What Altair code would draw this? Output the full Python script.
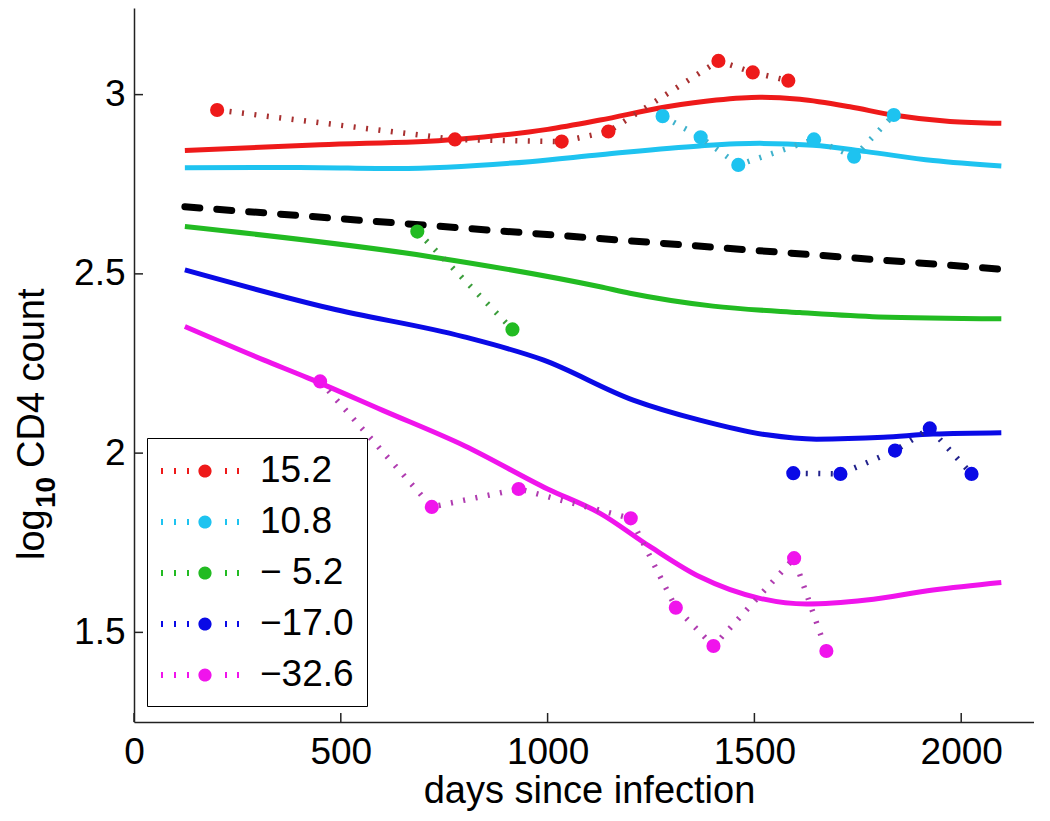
import altair as alt
import pandas as pd

# ---------------- data ----------------
series = ["15.2", "10.8", "\u2212 5.2", "\u221217.0", "\u221232.6"]
keys = ["a", "b", "c", "d", "e"]
bright = ["#ee1a1a", "#1ec3f0", "#22bb22", "#0a0ae6", "#f014ec"]
dark = ["#a83030", "#3fb2cc", "#3a9d3a", "#22228c", "#b03cb0"]

# observed CD4 measurements (dotted lines + dots)
obs_red_day = [201, 776, 1034, 1147, 1413, 1496, 1582]
obs_red_val = [2.957, 2.875, 2.869, 2.897, 3.094, 3.062, 3.039]
obs_cyan_day = [1278, 1370, 1461, 1644, 1741, 1837]
obs_cyan_val = [2.940, 2.881, 2.804, 2.875, 2.827, 2.943]
obs_green_day = [685, 915]
obs_green_val = [2.618, 2.345]
obs_blue_day = [1594, 1708, 1840, 1924, 2025]
obs_blue_val = [1.944, 1.942, 2.007, 2.069, 1.942]
obs_mag_day = [450, 720, 930, 1201, 1310, 1401, 1596, 1674]
obs_mag_val = [2.20, 1.85, 1.90, 1.818, 1.569, 1.462, 1.707, 1.448]

# fitted curves (solid lines)
fit_red_day = [123, 450, 776, 1000, 1127, 1288, 1408, 1513, 1610, 1731, 1835, 1973, 2097]
fit_red_val = [2.844, 2.860, 2.875, 2.903, 2.929, 2.966, 2.985, 2.993, 2.987, 2.966, 2.943, 2.925, 2.920]
fit_cyan_day = [123, 400, 635, 957, 1127, 1368, 1513, 1642, 1771, 1932, 2097]
fit_cyan_val = [2.796, 2.797, 2.794, 2.813, 2.832, 2.857, 2.864, 2.859, 2.841, 2.816, 2.801]
fit_green_day = [123, 716, 1127, 1199, 1400, 1610, 1800, 2097]
fit_green_val = [2.632, 2.548, 2.464, 2.446, 2.410, 2.392, 2.380, 2.375]
fit_blue_day = [123, 474, 796, 989, 1207, 1368, 1530, 1650, 1812, 1932, 2097]
fit_blue_val = [2.511, 2.404, 2.325, 2.260, 2.148, 2.092, 2.051, 2.039, 2.044, 2.053, 2.057]
fit_mag_day = [123, 313, 420, 600, 800, 1000, 1127, 1248, 1368, 1513, 1626, 1771, 1932, 2097]
fit_mag_val = [2.353, 2.260, 2.210, 2.120, 2.020, 1.900, 1.832, 1.739, 1.655, 1.595, 1.579, 1.590, 1.618, 1.639]

# population mean (black dashed)
mean_day = [123, 2097]
mean_val = [2.687, 2.513]

x_ticks = [0, 500, 1000, 1500, 2000]
y_ticks = [1.5, 2, 2.5, 3]

# ---------------- tables ----------------
obs_sets = [(obs_red_day, obs_red_val), (obs_cyan_day, obs_cyan_val),
            (obs_green_day, obs_green_val), (obs_blue_day, obs_blue_val),
            (obs_mag_day, obs_mag_val)]
fit_sets = [(fit_red_day, fit_red_val), (fit_cyan_day, fit_cyan_val),
            (fit_green_day, fit_green_val), (fit_blue_day, fit_blue_val),
            (fit_mag_day, fit_mag_val)]

obs_rows, fit_rows = [], []
for name, k, (d, v) in zip(series, keys, obs_sets):
    obs_rows += [{"series": name, "k": k, "day": a, "val": b} for a, b in zip(d, v)]
for name, k, (d, v) in zip(series, keys, fit_sets):
    fit_rows += [{"series": name, "k": k, "day": a, "val": b} for a, b in zip(d, v)]
obs = pd.DataFrame(obs_rows)
fits = pd.DataFrame(fit_rows)
mean_df = pd.DataFrame({"day": mean_day, "val": mean_val})
xt_df = pd.DataFrame({"day": x_ticks})
yt_df = pd.DataFrame({"val": y_ticks})

W, H = 900, 714
FONT = "Liberation Sans"
FS = 37
TFS = 38

xscale = alt.Scale(domain=[0, 2176], nice=False, zero=False)
yscale = alt.Scale(domain=[1.25, 3.2416], nice=False, zero=False)
xaxis = alt.Axis(values=x_ticks, format="d", title="days since infection",
                 ticks=False, grid=False, labelPadding=12, labelFlush=False,
                 titleX=455, titleY=80, titleBaseline="alphabetic", titleAlign="center",
                 titleFontSize=TFS)
yaxis = alt.Axis(values=y_ticks, format="~g", title=None,
                 ticks=False, grid=False, labelPadding=9, labelFlush=False)
X = alt.X("day:Q", scale=xscale, axis=xaxis)
Y = alt.Y("val:Q", scale=yscale, axis=yaxis)

# custom legend symbol: dotted line with a dot
cx, r = 1.25, 0.33
parts = []
for d in [-2.15, -1.5, -0.85, 1.05, 1.65]:
    x0 = cx + d - 0.05
    parts.append(f"M{x0:.3f},-0.15L{x0 + 0.1:.3f},-0.15L{x0 + 0.1:.3f},0.15L{x0:.3f},0.15Z")
parts.append(f"M{cx - r:.3f},0A{r},{r},0,1,0,{cx + r:.3f},0A{r},{r},0,1,0,{cx - r:.3f},0Z")
sym_path = "".join(parts)

fit_layer = alt.Chart(fits).mark_line(strokeWidth=5, interpolate="monotone").encode(
    x=X, y=Y,
    stroke=alt.Stroke("k:N", scale=alt.Scale(domain=keys, range=bright), legend=None),
    detail="k:N",
)
mean_layer = alt.Chart(mean_df).mark_line(
    strokeWidth=7, strokeDash=[15, 17], strokeCap="round", color="black"
).encode(x=X, y=Y)
dot_layer = alt.Chart(obs).mark_line(strokeWidth=5.5, strokeDash=[2, 10.5]).encode(
    x=X, y=Y,
    color=alt.Color("k:N", scale=alt.Scale(domain=keys, range=dark), legend=None),
    detail="k:N",
)
pt_layer = alt.Chart(obs).mark_circle(size=200, opacity=1).encode(
    x=X, y=Y,
    fill=alt.Fill("series:N", scale=alt.Scale(domain=series, range=bright),
                  legend=alt.Legend(title=None, orient="none", legendX=13, legendY=430,
                                    fillColor="white", strokeColor="black", padding=13,
                                    labelFontSize=FS, labelFont=FONT, labelColor="black",
                                    labelOffset=60, rowPadding=13, labelLimit=400,
                                    symbolType=sym_path, symbolSize=1600,
                                    symbolStrokeWidth=0, symbolOpacity=1)),
)
xt_layer = alt.Chart(xt_df).mark_rule(color="#222222", strokeWidth=1.5).encode(
    x=X, y=alt.value(H), y2=alt.value(H - 9))
yt_layer = alt.Chart(yt_df).mark_rule(color="#222222", strokeWidth=1.5).encode(
    y=Y, x=alt.value(0), x2=alt.value(9))

# y-axis title: log with bold subscript 10, then "CD4 count" (rotated text)
title_df = pd.DataFrame({"t": ["log", "10", "CD4 count"]})
t_log = alt.Chart(title_df).transform_filter("datum.t == 'log'").mark_text(
    angle=270, align="left", baseline="alphabetic", font=FONT, fontSize=TFS, color="black"
).encode(text="t:N", x=alt.value(-90), y=alt.value(552))
t_sub = alt.Chart(title_df).transform_filter("datum.t == '10'").mark_text(
    angle=270, align="left", baseline="alphabetic", font=FONT, fontSize=28,
    fontWeight="bold", color="black"
).encode(text="t:N", x=alt.value(-79), y=alt.value(500))
t_cnt = alt.Chart(title_df).transform_filter("datum.t == 'CD4 count'").mark_text(
    angle=270, align="left", baseline="alphabetic", font=FONT, fontSize=TFS, color="black"
).encode(text="t:N", x=alt.value(-90), y=alt.value(460))

chart = alt.layer(fit_layer, mean_layer, dot_layer, pt_layer, xt_layer, yt_layer,
                  t_log, t_sub, t_cnt).properties(
    width=W, height=H,
    padding={"left": 126, "top": 0, "right": 0, "bottom": 90},
    autosize=alt.AutoSizeParams(type="none"),
    background="white",
).configure_view(stroke=None).configure_axis(
    labelFont=FONT, labelFontSize=FS, labelColor="black",
    titleFont=FONT, titleFontSize=TFS, titleColor="black", titleFontWeight="normal",
    domainColor="#222222", domainWidth=1.5,
)

chart.save("out.html", embed_options={"renderer": "svg", "actions": False})
